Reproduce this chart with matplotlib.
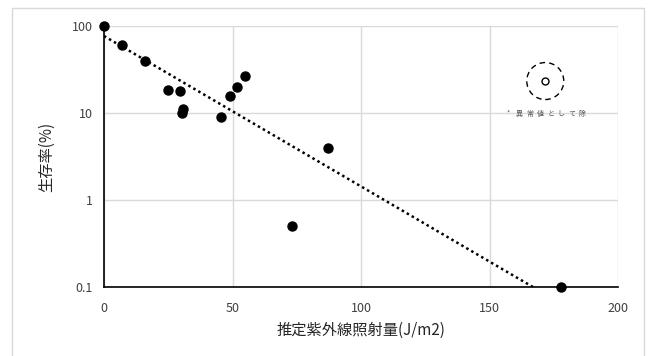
import numpy as np
import matplotlib
matplotlib.use("Agg")
import matplotlib.pyplot as plt
from matplotlib.patches import Rectangle, Circle
from matplotlib.transforms import ScaledTranslation

plt.rcParams['font.family'] = ['Noto Sans CJK JP', 'DejaVu Sans']

# data
dose = [0, 7.0, 15.8, 24.8, 29.7, 30.7, 30.5, 45.4, 49.0, 51.9, 54.9, 87.0, 73.2, 178]
survival = [100, 61, 40, 18.4, 18, 11.1, 9.9, 9.1, 15.7, 20, 26.6, 4.0, 0.5, 0.1]
outlier_x = [171.7]
outlier_y = [23.3]
note = "*異常値として除"
x_ticks = [0, 50, 100, 150, 200]
y_ticks = [0.1, 1, 10, 100]
# exponential trendline shown in the chart: y = A * exp(B * x)
trend_a = 76.7
trend_b = -0.0398

fig = plt.figure(figsize=(6.48, 3.56), dpi=100)
fig.patches.append(Rectangle((12 / 648, -0.01), 632 / 648, 1.01 - 8 / 356, transform=fig.transFigure,
                             fill=False, edgecolor='#d9d9d9', linewidth=1))
ax = fig.add_axes([104 / 648, 1 - 287 / 356, 514 / 648, 261 / 356])

ax.set_yscale('log')
ax.set_xlim(0, 200)
ax.set_ylim(0.1, 100)
ax.set_xticks(x_ticks)
ax.set_xticklabels([str(v) for v in x_ticks])
ax.set_yticks(y_ticks)
ax.set_yticklabels(['0.1', '1', '10', '100'])
ax.minorticks_off()
ax.tick_params(length=0, labelsize=9, colors='#404040', pad=8)
ax.tick_params(axis='x', pad=11)
ax.grid(True, color='#d9d9d9', linewidth=1)
ax.set_axisbelow(True)
for s in ['top', 'right']:
    ax.spines[s].set_visible(False)
for s in ['left', 'bottom']:
    ax.spines[s].set_color('black')
    ax.spines[s].set_linewidth(1.2)

xs = np.linspace(0, 200, 400)
ys = trend_a * np.exp(trend_b * xs)
ax.plot(xs, ys, color='black', linestyle=(0, (1, 1.3)), linewidth=1.8)

ax.plot(dose, survival, 'o', color='black', markersize=6.5, clip_on=False, zorder=5)

ax.plot(outlier_x, outlier_y, 'o', markerfacecolor='white', markeredgecolor='black',
        markersize=5, markeredgewidth=1)
# dashed ring around the outlier
ring_tr = fig.dpi_scale_trans + ScaledTranslation(outlier_x[0], outlier_y[0], ax.transData)
ax.add_patch(Circle((0, 0), 0.185, transform=ring_tr, fill=False,
                    linestyle=(0, (4, 3)), edgecolor='black', linewidth=1))

# spaced-out note under the ring
for i, ch in enumerate(note):
    ax.annotate(ch, xy=(outlier_x[0], outlier_y[0]), xytext=(-26.5 + i * 7.6, -23),
                textcoords='offset points', fontsize=5, color='#595959',
                ha='center', va='center_baseline')

ax.set_xlabel('推定紫外線照射量(J/m2)', fontsize=11, color='#262626', labelpad=5)
ax.set_ylabel('生存率(%)', fontsize=11, color='#262626', labelpad=12)

fig.savefig('out.png', dpi=100)
